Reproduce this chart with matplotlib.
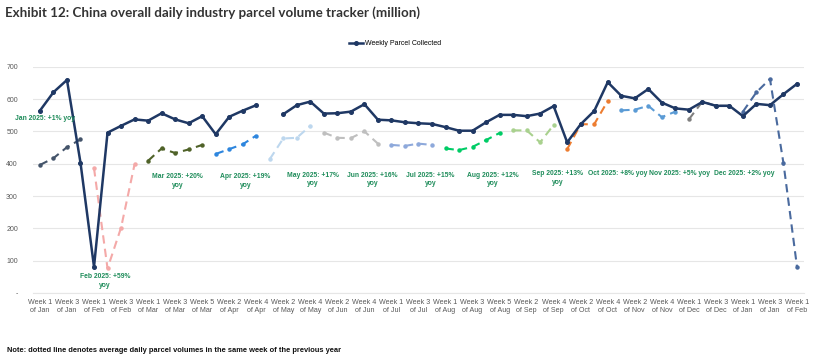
import numpy as np
import matplotlib
matplotlib.use("Agg")
import matplotlib.pyplot as plt

# weekly parcel volumes (million), 57 weeks from Week 1 of Jan to Week 1 of Feb next year
months = ["Jan", "Feb", "Mar", "Apr", "May", "Jun", "Jul", "Aug", "Sep", "Oct", "Nov", "Dec", "Jan", "Feb"]
weeks_per_month = [4, 4, 5, 4, 4, 5, 4, 5, 4, 4, 5, 4, 4, 1]

weekly_collected = [564, 621, 659, 403, 81, 496, 517, 537, 533, 556, 537, 525, 547, 491, 545, 564, 581,
                    None, 553, 581, 592, 555, 556, 561, 584, 536, 534, 528, 525, 523, 513, 502, 502, 528,
                    551, 551, 547, 555, 578, 466, 522, 563, 652, 610, 602, 631, 589, 571, 567, 591, 579,
                    579, 547, 585, 581, 615, 647]

prev_year = [396, 417, 451, 475, 386, 76, 202, 398, 409, 447, 433, 444, 458, 430, 445, 460, 487,
             414, 478, 480, 517, 496, 480, 479, 500, 462, 458, 455, 462, 458, 447, 442, 452, 473,
             495, 503, 503, 466, 520, 445, 522, 522, 594, 565, 567, 579, 544, 561, 537, 592, 579,
             579, 561, 621, 662, 401, 81]

# (start, end) week index of each month's previous-year segment
segments = [(0, 3), (4, 7), (8, 12), (13, 16), (17, 20), (21, 25), (26, 29), (30, 34),
            (35, 38), (39, 42), (43, 47), (48, 51), (52, 56)]
seg_colors = ["#44546A", "#F4A9A8", "#4F6228", "#2E86DE", "#BDD7EE", "#BFBFBF", "#8EA9DB",
              "#00CC66", "#A9D18E", "#ED7D31", "#5B9BD5", "#7F7F7F", "#4A6A9E"]

yoy_labels = ["Jan 2025: +1% yoy", "Feb 2025: +59%\nyoy", "Mar 2025: +20%\nyoy", "Apr 2025: +19%\nyoy",
              "May 2025: +17%\nyoy", "Jun 2025: +16%\nyoy", "Jul 2025: +15%\nyoy", "Aug 2025: +12%\nyoy",
              "Sep 2025: +13%\nyoy", "Oct 2025: +8% yoy", "Nov 2025: +5% yoy", "Dec 2025: +2% yoy"]
yoy_pos = [(-1.85, 541), (4.8, 37), (10.2, 346), (15.2, 346), (20.2, 351), (24.6, 351), (28.9, 351),
           (33.5, 351), (38.3, 356), (42.7, 371), (47.3, 371), (52.1, 371)]

week_labels = []
for m, n in zip(months, weeks_per_month):
    for w in range(1, n + 1):
        week_labels.append("Week %d\nof %s" % (w, m))

x = np.arange(len(week_labels))
solid = np.array([np.nan if v is None else v for v in weekly_collected], dtype=float)
prev = np.array(prev_year, dtype=float)

fig = plt.figure(figsize=(8.17, 3.58), dpi=100)
ax = fig.add_axes([0.0406, 0.1816, 0.9432, 0.6321])

for (s, e), c in zip(segments, seg_colors):
    ax.plot(x[s:e + 1], prev[s:e + 1], color=c, lw=1.5, ls=(0, (4, 2.5)),
            marker="o", ms=2.2, zorder=2)

ax.plot(x, solid, color="#1F3864", lw=1.8, marker="o", ms=2.6, zorder=3,
        label="Weekly Parcel Collected")

for txt, (tx, ty) in zip(yoy_labels, yoy_pos):
    ax.text(tx, ty, txt, color="#1E8C5A", fontsize=4.85, fontweight="bold",
            ha="left" if tx < 0 else "center", va="center", family="Liberation Sans",
            linespacing=1.3, clip_on=False)

ax.set_xlim(-0.5, len(x) - 0.5)
ax.set_ylim(0, 700)
ax.set_yticks(np.arange(0, 701, 100))
ax.set_yticklabels(["-"] + [str(v) for v in range(100, 701, 100)])
ax.set_xticks(x[::2])
ax.set_xticklabels(week_labels[::2])
ax.tick_params(axis="x", length=0, labelsize=5.15, labelcolor="#595959", pad=4)
ax.tick_params(axis="y", length=0, labelsize=5, labelcolor="#595959", pad=11)
for lab in ax.get_xticklabels() + ax.get_yticklabels():
    lab.set_family("Liberation Sans")

ax.grid(axis="y", color="#E6E6E6", lw=0.8)
ax.set_axisbelow(True)
for sp in ["top", "right", "left"]:
    ax.spines[sp].set_visible(False)
ax.spines["bottom"].set_color("#E6E6E6")

ax.legend(loc="upper center", bbox_to_anchor=(0.47, 1.145), frameon=False,
          prop={"family": "Liberation Sans", "size": 5}, handlelength=2, handletextpad=0.3)

fig.text(0.006, 0.965, "Exhibit 12: China overall daily industry parcel volume tracker (million)",
         fontsize=9.6, fontweight="bold", color="#333333", family="Lato", va="center")
fig.text(0.008, 0.02, "Note: dotted line denotes average daily parcel volumes in the same week of the previous year",
         fontsize=5.4, fontweight="bold", color="#111111", family="Liberation Sans", va="center")

fig.savefig("out.png", dpi=100)
